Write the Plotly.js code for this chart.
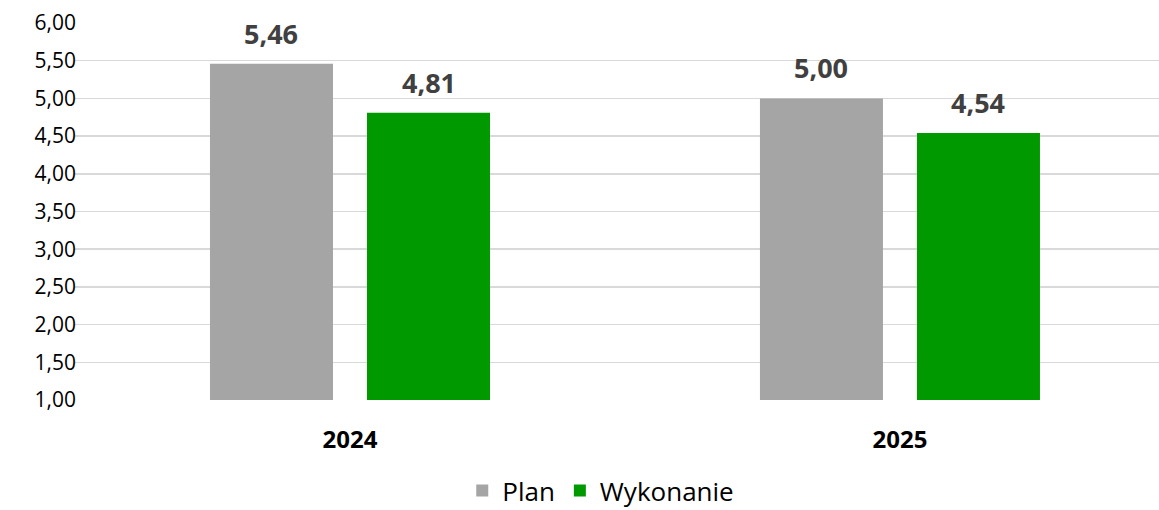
<!DOCTYPE html>
<html>
<head>
<meta charset="utf-8">
<script src="https://cdn.plot.ly/plotly-3.0.1.min.js"></script>
<style>html,body{margin:0;padding:0;background:#fff}#chart{width:1159px;height:510px}</style>
</head>
<body>
<div id="chart"></div>
<script>
const categories = ["2024", "2025"];
const planValues = [5.46, 5.00];
const wykonanieValues = [4.81, 4.54];
const seriesNames = ["Plan", "Wykonanie"];
const yTicks = [1, 1.5, 2, 2.5, 3, 3.5, 4, 4.5, 5, 5.5, 6];

const fmt = v => v.toFixed(2).replace('.', ',');
const colors = ["#a5a5a5", "#009900"];

const traces = [
  {type: 'bar', name: seriesNames[0], x: categories, y: planValues, marker: {color: colors[0]}},
  {type: 'bar', name: seriesNames[1], x: categories, y: wykonanieValues, marker: {color: colors[1]}}
];

const annotations = [];
const slot = 0.2855;
[planValues, wykonanieValues].forEach((vals, s) => {
  vals.forEach((v, i) => {
    annotations.push({
      x: i + (s === 0 ? -slot/2 : slot/2), y: v, xref: 'x', yref: 'y',
      text: '<b>' + fmt(v) + '</b>', showarrow: false, yanchor: 'bottom', yshift: 10,
      font: {family: 'Open Sans', size: 27, color: '#404040'}
    });
  });
});

const layout = {
  width: 1159, height: 510,
  margin: {l: 75, r: 0, t: 23, b: 110, autoexpand: false},
  paper_bgcolor: '#fff', plot_bgcolor: '#fff',
  separators: ', ',
  barmode: 'group', bargap: 0.429, bargroupgap: 0.2166,
  xaxis: {
    type: 'category', range: [-0.5, 1.471],
    showgrid: false, zeroline: false, showline: false,
    ticks: '', ticklabelstandoff: 23,
    tickfont: {family: 'Open Sans', size: 24, color: '#000'},
    tickvals: categories, ticktext: categories.map(c => '<b>' + c + '</b>')
  },
  yaxis: {
    range: [1, 6], tickvals: yTicks, ticktext: yTicks.map(fmt),
    showgrid: true, gridcolor: '#d9d9d9', gridwidth: 1.5,
    zeroline: false, showline: false, ticks: '', ticklabelstandoff: -2,
    tickfont: {family: 'Open Sans', size: 21, color: '#000'}
  },
  showlegend: true,
  legend: {orientation: 'h', x: 0.485, xanchor: 'center', y: -0.178, yanchor: 'top',
    font: {family: 'Open Sans', size: 26, color: '#000'}, itemwidth: 30},
  annotations: annotations
};

Plotly.newPlot('chart', traces, layout, {displayModeBar: false, staticPlot: true});
</script>
</body>
</html>
